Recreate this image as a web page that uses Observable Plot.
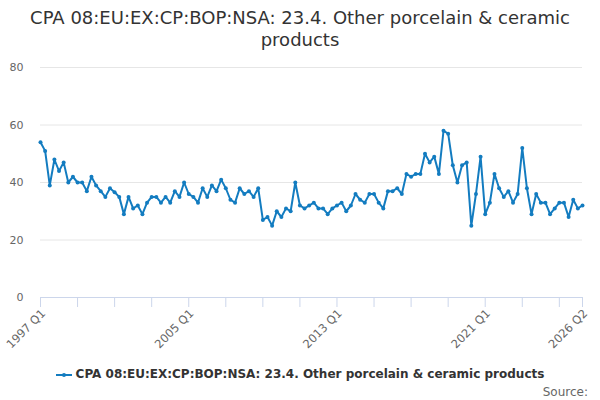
<!DOCTYPE html>
<html>
<head>
<meta charset="utf-8">
<script src="https://cdn.jsdelivr.net/npm/d3@7"></script>
<script src="https://cdn.jsdelivr.net/npm/@observablehq/plot@0.6"></script>
<style>
  html, body { margin: 0; padding: 0; background: #fff; }
  #wrap { position: relative; width: 600px; height: 400px; font-family: "DejaVu Sans", sans-serif; overflow: hidden; }
  #title { position: absolute; top: 7px; left: 0; width: 600px; text-align: center; font-size: 18px; line-height: 22px; color: #333; }
  #chart { position: absolute; top: 51px; left: 0; }
  #legend { position: absolute; top: 367px; left: 0; width: 600px; text-align: center; font-size: 12px; font-weight: bold; color: #333; white-space: nowrap; }
  #legend svg { vertical-align: middle; margin-right: 4px; }
  #source { position: absolute; top: 385px; right: 12px; font-size: 12px; color: #666; }
</style>
</head>
<body>
<div id="wrap">
  <div id="title">CPA 08:EU:EX:CP:BOP:NSA: 23.4. Other porcelain &amp; ceramic<br>products</div>
  <div id="chart"></div>
  <div id="legend"></div>
  <div id="source">Source:</div>
</div>
<script>
const seriesName = "CPA 08:EU:EX:CP:BOP:NSA: 23.4. Other porcelain & ceramic products";
const startYear = 1997;
const values = [
  54, 51, 39, 48, 44, 47, 40, 42, 40, 40, 37, 42, 39, 37, 35, 38,
  36.6, 35, 29, 35, 31, 32, 29, 33, 35, 35, 33, 35, 33, 37, 35, 40,
  36, 35, 33, 38, 35, 39, 37, 41, 38, 34, 33, 38, 36, 37, 35, 38,
  27, 28, 25, 30, 28, 31, 30, 40, 32, 31, 32, 33, 31, 31, 29, 31,
  32, 33, 30, 32, 36, 34, 33, 36, 36, 33, 31, 37, 37, 38, 36, 43,
  42, 43, 43, 50, 47, 49, 43, 58, 57, 46, 40, 46, 47, 25, 36, 49,
  29, 33, 43, 38, 35, 37, 33, 36, 52, 38, 29, 36, 33, 33, 29, 31,
  33, 33, 28, 34, 31, 32
];
const quarters = values.map((_, i) => `${startYear + Math.floor(i / 4)} Q${(i % 4) + 1}`);
const labelTicks = ["1997 Q1", "2005 Q1", "2013 Q1", "2021 Q1", "2026 Q2"];
const markTicks = quarters.filter((q, i) => i % 8 === 0).concat(["2026 Q2"]);
const yTicks = [0, 20, 40, 60, 80];
const lineColor = "#137cc0";

const data = quarters.map((q, i) => ({q, v: values[i]}));

const chart = Plot.plot({
  width: 600,
  height: 300,
  marginLeft: 40,
  marginRight: 18,
  marginTop: 16,
  marginBottom: 54,
  style: {fontFamily: "DejaVu Sans", fontSize: "11px", color: "#666", background: "white", overflow: "visible"},
  x: {type: "point", domain: quarters, padding: 0},
  y: {domain: [0, 80]},
  marks: [
    Plot.gridY(yTicks, {stroke: "#e6e6e6", strokeOpacity: 1}),
    Plot.axisY(yTicks, {tickSize: 0, tickPadding: 17, fill: "#666", label: null}),
    Plot.ruleY([0], {stroke: "#ccd6eb"}),
    Plot.axisX(markTicks, {tickSize: 10, stroke: "#ccd6eb", strokeOpacity: 1, tickFormat: () => "", label: null}),
    Plot.axisX(labelTicks, {tickSize: 0, tickPadding: 14, dx: 3, tickRotate: -45, fill: "#666", fontSize: 11.5, label: null}),
    Plot.line(data, {x: "q", y: "v", stroke: lineColor, strokeWidth: 2}),
    Plot.dot(data, {x: "q", y: "v", r: 2, fill: lineColor, stroke: null})
  ]
});
document.getElementById("chart").appendChild(chart);

document.getElementById("legend").innerHTML =
  `<svg width="16" height="12"><line x1="0" x2="16" y1="6" y2="6" stroke="${lineColor}" stroke-width="2"/><circle cx="8" cy="6" r="2" fill="${lineColor}"/></svg>`;
document.getElementById("legend").appendChild(document.createTextNode(seriesName));
</script>
</body>
</html>
